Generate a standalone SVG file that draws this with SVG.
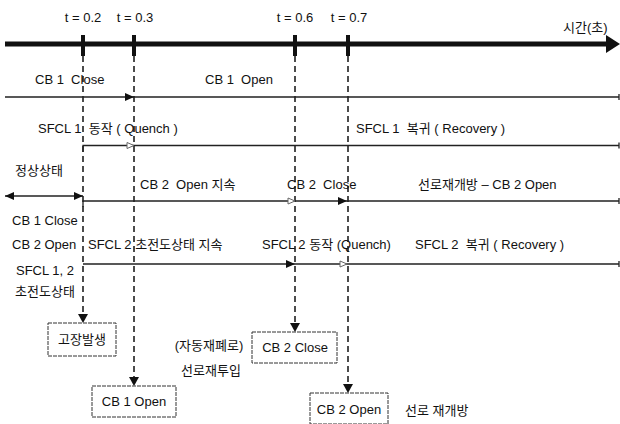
<svg xmlns="http://www.w3.org/2000/svg" width="620" height="424" viewBox="0 0 620 424">
<style>
text{font-family:"Liberation Sans","Noto Sans CJK KR",sans-serif;font-size:13px;fill:#111;white-space:pre}
.c{text-anchor:middle}
.row{fill:none;stroke:#222;stroke-width:1.3}
.dash{fill:none;stroke:#111;stroke-width:1.5;stroke-dasharray:6 4}
.box{fill:#fff;stroke:#333;stroke-width:1;stroke-dasharray:4 1}
.fa{fill:#111}
.ha{fill:#fff;stroke:#666;stroke-width:1}
</style>
<rect width="620" height="424" fill="#fff"/>
<g id="axis">
<line x1="5" y1="44" x2="608" y2="44" stroke="#111" stroke-width="5"/>
<polygon points="606,35 620,44 606,53" fill="#111"/>
<rect x="81" y="35" width="4" height="21" fill="#111"/>
<rect x="132" y="35" width="4" height="21" fill="#111"/>
<rect x="293" y="35" width="4" height="21" fill="#111"/>
<rect x="346" y="35" width="4" height="21" fill="#111"/>
<text class="c" x="83" y="22">t = 0.2</text>
<text class="c" x="135" y="22">t = 0.3</text>
<text class="c" x="295" y="22">t = 0.6</text>
<text class="c" x="349" y="22">t = 0.7</text>
<text x="563" y="32" font-size="12">시간(초)</text>
</g>
<g id="connectors">
<path class="dash" d="M83,56 V316"/>
<polygon class="fa" points="78,314 88,314 83,323"/>
<path class="dash" d="M134,56 V379"/>
<polygon class="fa" points="129,377 139,377 134,386"/>
<path class="dash" d="M295,56 V325"/>
<polygon class="fa" points="290,323 300,323 295,332"/>
<path class="dash" d="M348,56 V386"/>
<polygon class="fa" points="343,384 353,384 348,393"/>
<path class="row" d="M5,97 H619 M619,94 V100"/>
<polygon class="fa" points="125,93 134,97 125,101"/>
<path class="row" d="M83,152 V145.5 H619 M619,142.5 V148.5"/>
<polygon class="ha" points="127,142.5 134,145.5 127,148.5"/>
<path class="row" d="M5,196 H83"/>
<polygon class="fa" points="14,192 5,196 14,200"/>
<polygon class="fa" points="74,192 83,196 74,200"/>
<path class="row" d="M83,207 V201 H619 M619,198 V204"/>
<polygon class="ha" points="288,198 295,201 288,204"/>
<polygon class="fa" points="338,197 347,201 338,205"/>
<path class="row" d="M83,264 H619 M619,261 V267"/>
<polygon class="fa" points="286,260 295,264 286,268"/>
<polygon class="ha" points="340,261 347,264 340,267"/>
</g>
<g id="row1">
<text x="35" y="84">CB 1  Close</text>
<text x="205" y="84">CB 1  Open</text>
</g>
<g id="row2">
<text x="38" y="133">SFCL 1  동작 ( Quench )</text>
<text x="356" y="133">SFCL 1  복귀 ( Recovery )</text>
</g>
<g id="row3">
<text x="15" y="175">정상상태</text>
<text x="140" y="189">CB 2  Open 지속</text>
<text x="287" y="189">CB 2  Close</text>
<text x="418" y="189">선로재개방 – CB 2 Open</text>
</g>
<g id="row4">
<text x="12" y="225">CB 1 Close</text>
<text x="12" y="249">CB 2 Open</text>
<text x="88" y="249">SFCL 2 초전도상태 지속</text>
<text x="262" y="249">SFCL 2 동작 (Quench)</text>
<text x="415" y="249">SFCL 2  복귀 ( Recovery )</text>
<text class="c" x="45" y="275">SFCL 1, 2</text>
<text class="c" x="45" y="296">초전도상태</text>
</g>
<g id="fault">
<rect class="box" x="48" y="323" width="68" height="33"/>
<text class="c" x="82" y="344">고장발생</text>
</g>
<g id="cb1open">
<rect class="box" x="92" y="386" width="84" height="31"/>
<text class="c" x="134" y="406">CB 1 Open</text>
</g>
<g id="reclose">
<text class="c" x="209" y="350">(자동재폐로)</text>
<text class="c" x="211" y="375">선로재투입</text>
</g>
<g id="cb2close">
<rect class="box" x="252" y="332" width="85" height="31"/>
<text class="c" x="295" y="352">CB 2 Close</text>
</g>
<g id="cb2open">
<rect class="box" x="310" y="393" width="78" height="31"/>
<text class="c" x="349" y="414">CB 2 Open</text>
<text x="405" y="415">선로 재개방</text>
</g>
</svg>
